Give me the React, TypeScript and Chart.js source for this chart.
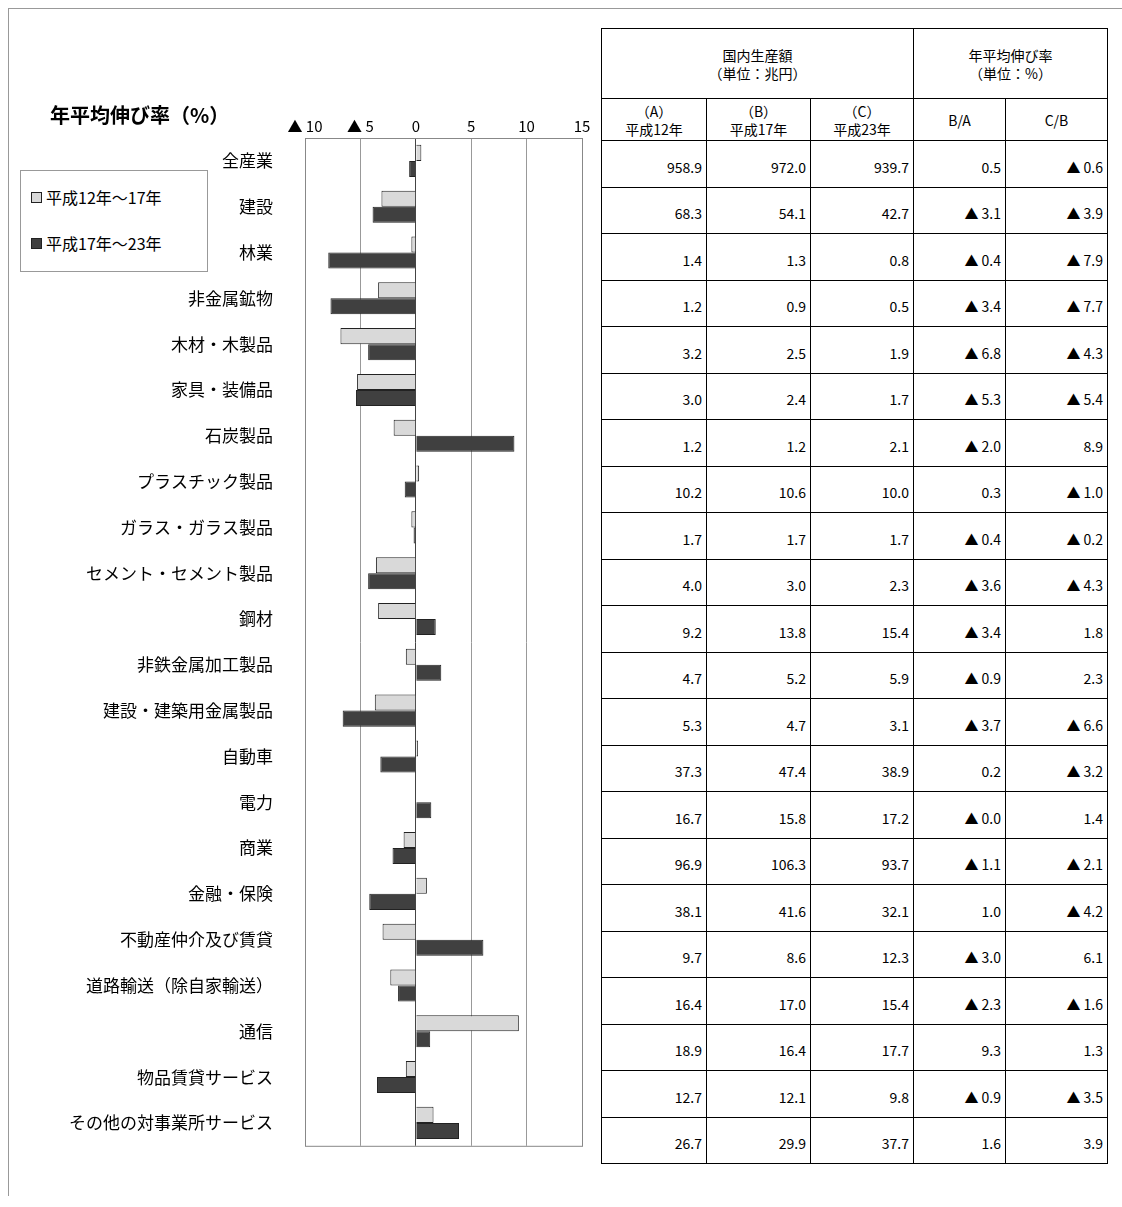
import { useEffect, useRef } from 'react'
import Chart from 'chart.js/auto'

const categories = [
  '全産業', '建設', '林業', '非金属鉱物', '木材・木製品', '家具・装備品', '石炭製品',
  'プラスチック製品', 'ガラス・ガラス製品', 'セメント・セメント製品', '鋼材', '非鉄金属加工製品',
  '建設・建築用金属製品', '自動車', '電力', '商業', '金融・保険', '不動産仲介及び賃貸',
  '道路輸送（除自家輸送）', '通信', '物品賃貸サービス', 'その他の対事業所サービス',
]
const prodA = [958.9, 68.3, 1.4, 1.2, 3.2, 3.0, 1.2, 10.2, 1.7, 4.0, 9.2, 4.7, 5.3, 37.3, 16.7, 96.9, 38.1, 9.7, 16.4, 18.9, 12.7, 26.7]
const prodB = [972.0, 54.1, 1.3, 0.9, 2.5, 2.4, 1.2, 10.6, 1.7, 3.0, 13.8, 5.2, 4.7, 47.4, 15.8, 106.3, 41.6, 8.6, 17.0, 16.4, 12.1, 29.9]
const prodC = [939.7, 42.7, 0.8, 0.5, 1.9, 1.7, 2.1, 10.0, 1.7, 2.3, 15.4, 5.9, 3.1, 38.9, 17.2, 93.7, 32.1, 12.3, 15.4, 17.7, 9.8, 37.7]
const rateBA = [0.5, -3.1, -0.4, -3.4, -6.8, -5.3, -2.0, 0.3, -0.4, -3.6, -3.4, -0.9, -3.7, 0.2, -0.0, -1.1, 1.0, -3.0, -2.3, 9.3, -0.9, 1.6]
const rateCB = [-0.6, -3.9, -7.9, -7.7, -4.3, -5.4, 8.9, -1.0, -0.2, -4.3, 1.8, 2.3, -6.6, -3.2, 1.4, -2.1, -4.2, 6.1, -1.6, 1.3, -3.5, 3.9]
const seriesNames = ['平成12年～17年', '平成17年～23年']

const FONT = '"Noto Sans CJK JP", sans-serif'
const fmtRate = (v: number, neg: boolean) => (neg ? '▲ ' + Math.abs(v).toFixed(1) : v.toFixed(1))
const negBA = rateBA.map((v, i) => v < 0 || (v === 0 && i === 14))

// frame around the plot area, like the original
const frame = {
  id: 'frame',
  afterDraw(chart: any) {
    const { ctx, chartArea: a } = chart
    ctx.save()
    ctx.strokeStyle = '#888'
    ctx.lineWidth = 1
    ctx.strokeRect(a.left + 0.5, a.top + 0.5, a.right - a.left, a.bottom - a.top)
    ctx.restore()
  },
}

export default function App() {
  const canvasRef = useRef<HTMLCanvasElement>(null)

  useEffect(() => {
    if (!canvasRef.current) return
    const chart = new Chart(canvasRef.current, {
      type: 'bar',
      data: {
        labels: categories,
        datasets: [
          { label: seriesNames[0], data: rateBA, backgroundColor: '#d9d9d9', borderColor: '#222', borderWidth: 1, categoryPercentage: 0.7, barPercentage: 1 },
          { label: seriesNames[1], data: rateCB, backgroundColor: '#404040', borderColor: '#222', borderWidth: 1, categoryPercentage: 0.7, barPercentage: 1 },
        ],
      },
      options: {
        indexAxis: 'y',
        animation: false,
        responsive: false,
        layout: { padding: { top: 98, right: 18, bottom: 16, left: 0 } },
        plugins: { legend: { display: false }, tooltip: { enabled: false } },
        scales: {
          x: {
            position: 'top',
            min: -10,
            max: 15,
            ticks: {
              stepSize: 5,
              color: '#000',
              font: { family: FONT, size: 15 },
              callback: (v: any) => (v < 0 ? '▲ ' + Math.abs(v) : String(v)),
            },
            grid: {
              color: (c: any) => (c.tick && c.tick.value === 0 ? '#444' : '#999'),
              drawTicks: false,
            },
            border: { color: '#888' },
            afterFit: (s: any) => { s.height = 40 },
          },
          y: {
            ticks: { color: '#000', font: { family: FONT, size: 17 }, padding: 24 },
            grid: { display: false },
            border: { color: '#888' },
            afterFit: (s: any) => { s.width = 305 },
          },
        },
      },
      plugins: [frame],
    })
    return () => chart.destroy()
  }, [])

  const cell: React.CSSProperties = { border: '1.5px solid #000', padding: '6px 4px 0', fontSize: 14, textAlign: 'right', height: 46.5, boxSizing: 'border-box' }
  const head: React.CSSProperties = { border: '1.5px solid #000', fontSize: 14, textAlign: 'center', fontWeight: 'normal', lineHeight: '18px', padding: 0 }

  return (
    <div style={{ position: 'absolute', left: 0, top: 0, width: 1122, height: 1207, fontFamily: FONT, background: '#fff' }}>
      <div style={{ position: 'absolute', left: 8, top: 8, width: 1114, height: 1187, borderTop: '1px solid #999', borderLeft: '1px solid #999' }} />
      <canvas ref={canvasRef} width={600} height={1180} style={{ position: 'absolute', left: 0, top: 0, width: 600, height: 1180 }} />
      <div style={{ position: 'absolute', left: 50, top: 100, fontSize: 20, fontWeight: 'bold' }}>年平均伸び率（%）</div>
      <div style={{ position: 'absolute', left: 20, top: 170, width: 186, height: 100, border: '1px solid #999', background: '#fff', fontSize: 16 }}>
        {seriesNames.map((n, i) => (
          <div key={n} style={{ display: 'flex', alignItems: 'center', position: 'absolute', left: 10, top: i === 0 ? 14 : 60 }}>
            <span style={{ display: 'inline-block', width: 9, height: 9, border: '1px solid #222', background: i === 0 ? '#d9d9d9' : '#404040', marginRight: 4 }} />
            {n}
          </div>
        ))}
      </div>
      <table style={{ position: 'absolute', left: 601, top: 28, borderCollapse: 'collapse', tableLayout: 'fixed', width: 506 }}>
        <colgroup>
          <col style={{ width: 105 }} /><col style={{ width: 104 }} /><col style={{ width: 103 }} />
          <col style={{ width: 92 }} /><col style={{ width: 102 }} />
        </colgroup>
        <thead>
          <tr style={{ height: 70 }}>
            <th colSpan={3} style={head}>国内生産額<br />（単位：兆円）</th>
            <th colSpan={2} style={head}>年平均伸び率<br />（単位：%）</th>
          </tr>
          <tr style={{ height: 42 }}>
            <th style={head}>（A）<br />平成12年</th>
            <th style={head}>（B）<br />平成17年</th>
            <th style={head}>（C）<br />平成23年</th>
            <th style={head}>B/A</th>
            <th style={head}>C/B</th>
          </tr>
        </thead>
        <tbody>
          {categories.map((c, i) => (
            <tr key={c} style={{ height: 46.5 }}>
              <td style={cell}>{prodA[i].toFixed(1)}</td>
              <td style={cell}>{prodB[i].toFixed(1)}</td>
              <td style={cell}>{prodC[i].toFixed(1)}</td>
              <td style={cell}>{fmtRate(rateBA[i], negBA[i])}</td>
              <td style={cell}>{fmtRate(rateCB[i], rateCB[i] < 0)}</td>
            </tr>
          ))}
        </tbody>
      </table>
    </div>
  )
}
